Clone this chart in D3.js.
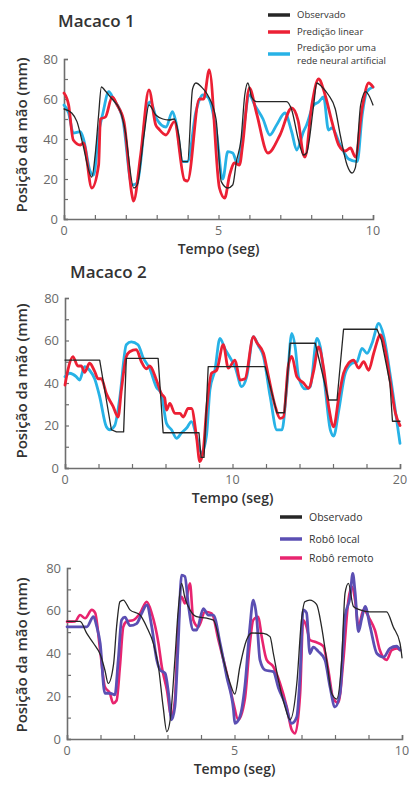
<!DOCTYPE html>
<html>
<head>
<meta charset="utf-8">
<script src="https://cdn.jsdelivr.net/npm/d3@7"></script>
<style>
  html, body { margin: 0; padding: 0; background: #fff; }
  svg { display: block; }
  text { font-family: "Open Sans", "Noto Sans", sans-serif; }
</style>
</head>
<body>
<svg id="chart" width="419" height="787"></svg>
<script>
// ---------- Macaco 1 (0–10 s) ----------
const m1ObsT = [0,0.25,0.42,0.6,0.9,1.02,1.12,1.21,1.34,1.5,1.83,1.97,2.26,2.37,2.59,2.75,2.97,3.2,3.4,3.57,3.73,3.84,4.0,4.16,4.27,4.45,4.65,4.92,5.09,5.3,5.46,5.58,5.73,5.85,5.95,6.07,6.23,7.2,7.37,7.58,7.75,7.85,8.08,8.18,8.35,8.56,8.78,8.94,9.16,9.32,9.43,9.6,9.76,9.86,10.0];
const m1ObsV = [55,53,48.7,38,21,33.7,52,66,64,61,53.7,45,15.5,17,42,57,52,50,49.5,50,40.5,28.7,28.7,65,68,66,62,50,18.7,15.5,17,28.7,40,62,68,61,58.7,58.7,54.5,40,32,33,57,68,66,62,55,42,27,23,25.7,57,63.7,62,57];

const m1LinT = [0,0.15,0.3,0.53,0.63,0.9,1.12,1.18,1.34,1.56,1.72,1.94,2.2,2.25,2.48,2.75,2.97,3.07,3.3,3.57,3.9,4.0,4.38,4.52,4.7,5.03,5.2,5.36,5.52,5.68,5.78,6.0,6.23,6.6,6.99,7.37,7.58,7.75,7.8,8.02,8.24,8.45,8.67,8.89,9.1,9.27,9.43,9.65,9.86,10.0];
const m1LinV = [63,57,39.5,37,38,15.5,27,50,51,61,57,48.7,12,9,32,64.5,47,45,42,48.7,19.5,19,60,60,74.5,15.5,10.5,22,28,27,37,65.5,53,33,42,55.5,49,32,31,57,70,62,48.7,37,34,35.5,31,55.5,68,66];

const m1AnnT = [0,0.15,0.3,0.53,0.63,0.85,0.96,1.12,1.26,1.45,1.6,1.9,2.2,2.37,2.7,2.8,3.0,3.3,3.51,3.62,3.84,4.0,4.27,4.49,4.65,4.92,5.14,5.3,5.46,5.62,5.78,6.0,6.17,6.44,6.66,6.88,7.15,7.37,7.53,7.75,7.85,8.08,8.24,8.4,8.56,8.67,8.94,9.21,9.49,9.65,9.8,10.0];
const m1AnnV = [57,53,43,43.7,40,23.7,22,43,53,63.7,60,50,17,18,57,58.5,50,46,53.7,48.7,28.7,28.7,53.7,62,61,45,20,33.7,33,27.5,41.5,62,57,50,42,47,53,43.5,34.5,43.7,47,57,58.5,61,44.5,45.5,37,30,28.7,52,63.7,66];

// ---------- Macaco 2 (0–20 s) ----------
const m2ObsT = [0,2.07,2.3,2.77,3.07,3.5,3.66,5.56,5.86,8.0,8.12,8.3,8.55,11.95,12.65,13.1,13.44,14.94,15.74,16.24,16.63,18.63,18.9,19.4,19.55,20.0];
const m2ObsV = [50.8,50.8,40,18,17,17,51.6,51.6,16.6,16.6,5,5,47.7,47.7,26,26,58.7,58.7,32,32,65.3,65.3,60,40,22,22];

const m2LinT = [0,0.17,0.47,0.77,0.97,1.17,1.47,1.77,1.97,2.17,2.47,2.87,3.17,3.37,3.66,3.86,4.26,4.56,4.86,5.06,5.46,5.75,5.95,6.06,6.26,6.56,6.86,7.06,7.35,7.55,7.85,8.05,8.25,8.45,8.75,9.05,9.45,9.75,10.15,10.45,10.75,11.25,11.45,11.85,12.15,12.55,12.84,13.04,13.34,13.54,13.84,14.24,14.54,14.84,15.14,15.44,15.74,16.04,16.34,16.63,16.93,17.23,17.53,17.83,18.13,18.43,18.83,19.13,19.43,19.73,20.0];
const m2LinV = [39,46,52.4,48,48,45,49.3,45.5,42,42,35,29,24,37,52.4,54.7,55.7,50,46.7,48,41.4,35,33,27.3,30.4,25.7,25.7,24,28,28,14.7,3,8,27.3,44.6,46,58,47,50.8,41.4,42,61.8,59,54,43,29,23.4,24,48.5,52.5,43,40,37.5,45.5,57,47,29,19.4,33,44.6,49.3,50.8,47,50,46,54,62.6,55,40,25.7,20];

const m2AnnT = [0,0.27,0.67,0.87,1.17,1.47,1.77,2.07,2.47,2.67,2.97,3.27,3.66,3.96,4.36,4.66,5.06,5.46,5.75,6.06,6.36,6.66,6.96,7.26,7.55,7.85,8.15,8.45,8.65,8.95,9.25,9.55,9.85,10.15,10.55,10.85,11.25,11.55,11.85,12.25,12.65,12.95,13.24,13.54,13.74,13.94,14.34,14.64,15.04,15.24,15.54,15.84,16.04,16.34,16.73,17.13,17.43,17.73,18.03,18.33,18.73,19.03,19.43,19.83,20.0];
const m2AnnV = [43,44.6,43,41.4,47.7,46,42,33.6,19.4,18,20,33,58,59.4,58,52,46.7,38,35,21,18,14,16.6,18.8,21.8,15,7,15.5,36.7,46,61,56,52,47.7,38.3,43,61.8,57.5,52.4,33.6,17.9,17.9,38,63.4,57,43,37.2,38.3,61,57,37,17.9,15,27,44.6,49.3,50,56.3,54,58.7,68,62,43,21,11.6];

// ---------- Robôs (0–10 s) ----------
const rObsT = [0,0.39,0.59,0.79,0.99,1.13,1.23,1.39,1.48,1.58,1.68,1.88,2.18,2.38,2.58,2.73,2.87,2.98,3.08,3.22,3.32,3.42,3.52,3.67,3.87,4.17,4.37,4.67,4.87,5.01,5.16,5.36,5.51,5.86,6.06,6.16,6.31,6.51,6.66,6.86,7.0,7.1,7.25,7.45,7.6,7.75,7.9,8.05,8.2,8.3,8.4,8.55,8.75,9.04,9.54,9.74,9.94,10.0];
const rObsV = [55,55,49.4,44.8,39.6,32.3,26,35,52.5,64.2,65,60.4,58,52.4,44.6,33.8,15,3.4,9,37,60.4,72.8,66,60.4,57.2,56.5,55.6,37,26,21,33.8,46.3,49.6,49.4,47.9,40,27.6,15,9,26,55.7,64.2,65,63,52.5,37,21.4,18.7,37,68.2,72.8,62,60.4,59.5,59.5,52.4,44.8,38];

const rLocalT = [0,0.59,0.79,0.89,0.99,1.13,1.28,1.43,1.53,1.63,1.73,1.88,2.08,2.23,2.38,2.53,2.68,2.78,2.93,3.03,3.12,3.22,3.32,3.42,3.52,3.62,3.77,3.87,4.07,4.22,4.37,4.57,4.77,4.97,5.01,5.16,5.31,5.46,5.56,5.66,5.76,5.91,6.16,6.31,6.51,6.71,6.86,6.96,7.05,7.15,7.25,7.35,7.5,7.7,7.85,8.0,8.15,8.3,8.45,8.53,8.6,8.7,8.8,8.9,9.05,9.25,9.45,9.64,9.84,9.94];
const rLocalV = [52.5,52.5,57.2,52.5,44.8,21.4,21.4,20.6,37,55.7,57,53,54,58.8,62.7,52.5,37,32.3,30.7,21.4,9,15,44.8,76.7,76,63,51,51,61,58,58,44.8,29,13.6,7.3,10.4,24.6,52.5,65,57,37,32.3,31.5,24,16.7,7.3,10.4,30.7,60.4,59,40,43,41,37,24.5,15,21.4,57.2,66.5,77.5,68.6,50.2,56.5,62,52.5,40,38.3,42.4,43.4,41.6];

const rRemoteT = [0,0.24,0.39,0.54,0.74,0.84,0.99,1.13,1.28,1.38,1.48,1.58,1.68,1.78,1.98,2.18,2.38,2.53,2.73,2.83,2.98,3.12,3.22,3.32,3.42,3.52,3.67,3.77,3.92,4.12,4.32,4.52,4.77,4.97,5.11,5.31,5.46,5.56,5.71,5.81,5.96,6.16,6.36,6.56,6.71,6.81,6.96,7.05,7.15,7.25,7.4,7.65,7.8,7.95,8.1,8.25,8.4,8.5,8.6,8.7,8.85,9.05,9.19,9.34,9.54,9.69,9.84,9.94];
const rRemoteV = [54.9,55,58,56.5,60.4,59,41.4,24.5,21.4,16.7,18,33.8,52.5,55,55.6,58.8,64.2,58.8,44.8,33.8,23,10.4,18,52.5,66.5,63.4,72.8,55.7,52.5,59.5,58.8,46.3,30.7,16.7,9,18.7,44.8,55.7,57.2,48,37,33.8,26,15,4.2,2.6,21.4,55.7,52.5,46.3,45.5,43.4,32.3,18.7,17,37,65,71.2,65,52.5,60.4,55.7,51,41.5,37,41.5,42.4,41.6];

// Axis tick values
const yTicksMinor = [0,10,20,30,40,50,60,70,80];
const yTickLabels = [0,20,40,60,80];
const xTicks10 = [0,1,2,3,4,5,6,7,8,9,10];
const xLabels10 = [0,5,10];
const xTicks20 = [0,2,4,6,8,10,12,14,16,18,20];
const xLabels20 = [0,10,20];

// Text
const yTitle = "Posição da mão (mm)";
const xTitle = "Tempo (seg)";
const legend1 = ["Observado", "Predição linear", "Predição por uma|rede neural artificial"];
const legend3 = ["Observado", "Robô local", "Robô remoto"];

// Colours
const cObs = "#262626", cLin = "#ec2034", cAnn = "#27b2e6", cLocal = "#5b4fb3", cRemote = "#e8246f";
const axisColor = "#6e6e6e", tickText = "#6a6a6a";

const svg = d3.select("#chart");

function panel(p) {
  const x = d3.scaleLinear().domain([0, p.xMax]).range([p.x0, p.x1]);
  const y = d3.scaleLinear().domain([0, 80]).range([p.y0, p.y1]);
  const g = svg.append("g");

  // y axis: ticks pointing inward, labels every 20
  const ya = g.append("g").attr("transform", `translate(${p.x0},0)`)
    .call(d3.axisRight(y).tickValues(yTicksMinor).tickSize(4).tickFormat(""));
  ya.select(".domain").attr("stroke", axisColor).attr("stroke-width", 1.6);
  ya.selectAll(".tick line").attr("stroke", axisColor).attr("stroke-width", 1.2);
  g.selectAll(".ylab").data(yTickLabels).join("text")
    .attr("x", p.x0 - 6).attr("y", d => y(d)).attr("dy", "0.36em")
    .attr("text-anchor", "end").attr("font-size", 13).attr("fill", tickText)
    .text(d => d);

  // x axis: ticks pointing up
  const xa = g.append("g").attr("transform", `translate(0,${p.y0})`)
    .call(d3.axisTop(x).tickValues(p.xTicks).tickSize(4).tickFormat(""));
  xa.select(".domain").attr("stroke", axisColor).attr("stroke-width", 1.6);
  xa.selectAll(".tick line").attr("stroke", axisColor).attr("stroke-width", 1.2);
  g.selectAll(".xlab").data(p.xLabels).join("text")
    .attr("x", d => x(d)).attr("y", p.y0 + 15.5)
    .attr("text-anchor", "middle").attr("font-size", 12.5).attr("fill", tickText)
    .text(d => d);

  // axis titles
  g.append("text").attr("x", (p.x0 + p.x1) / 2).attr("y", p.xTitleY)
    .attr("text-anchor", "middle").attr("font-size", 14).attr("font-weight", 600)
    .attr("fill", "#333").text(xTitle);
  g.append("text").attr("transform", `translate(${p.yTitleX},${p.yTitleY}) rotate(-90)`)
    .attr("text-anchor", "middle").attr("font-size", 15).attr("font-weight", 600)
    .attr("fill", "#333").attr("dy", "0.35em").text(yTitle);

  if (p.title) {
    g.append("text").attr("x", p.titleX).attr("y", p.titleY)
      .attr("font-size", 17).attr("font-weight", 600).attr("fill", "#333").text(p.title);
  }

  // series
  p.series.forEach(s => {
    const pts = s.t.map((t, i) => [t, s.v[i]]);
    const line = d3.line().x(d => x(d[0])).y(d => y(d[1]))
      .curve(s.step ? d3.curveLinear : d3.curveMonotoneX);
    g.append("path").datum(pts).attr("d", line)
      .attr("fill", "none").attr("stroke", s.color).attr("stroke-width", s.w)
      .attr("stroke-linejoin", "round").attr("stroke-linecap", "round");
  });
}

panel({
  x0: 64, x1: 373, y0: 219, y1: 59, xMax: 10,
  xTicks: xTicks10, xLabels: xLabels10,
  xTitleY: 253.5, yTitleX: 22, yTitleY: 135,
  title: "Macaco 1", titleX: 58, titleY: 27,
  series: [
    { t: m1AnnT, v: m1AnnV, color: cAnn, w: 2.8 },
    { t: m1LinT, v: m1LinV, color: cLin, w: 2.8 },
    { t: m1ObsT, v: m1ObsV, color: cObs, w: 1.3 }
  ]
});

panel({
  x0: 65, x1: 400, y0: 468, y1: 298, xMax: 20,
  xTicks: xTicks20, xLabels: xLabels20,
  xTitleY: 502.5, yTitleX: 22, yTitleY: 381,
  title: "Macaco 2", titleX: 70, titleY: 278,
  series: [
    { t: m2AnnT, v: m2AnnV, color: cAnn, w: 2.8 },
    { t: m2LinT, v: m2LinV, color: cLin, w: 2.8 },
    { t: m2ObsT, v: m2ObsV, color: cObs, w: 1.3, step: true }
  ]
});

panel({
  x0: 67, x1: 402, y0: 739, y1: 568, xMax: 10,
  xTicks: xTicks10, xLabels: xLabels10,
  xTitleY: 774, yTitleX: 22, yTitleY: 655,
  series: [
    { t: rRemoteT, v: rRemoteV, color: cRemote, w: 2.6 },
    { t: rLocalT, v: rLocalV, color: cLocal, w: 2.8 },
    { t: rObsT, v: rObsV, color: cObs, w: 1.3 }
  ]
});

// legends
function legend(items, colors, lx, ys, fs, lineGap) {
  const g = svg.append("g");
  items.forEach((label, i) => {
    g.append("line").attr("x1", lx).attr("x2", lx + 22).attr("y1", ys[i]).attr("y2", ys[i])
      .attr("stroke", colors[i]).attr("stroke-width", 3.5);
    const parts = label.split("|");
    const off = -(parts.length - 1) * lineGap / 2;
    parts.forEach((part, j) => {
      g.append("text").attr("x", lx + 29).attr("y", ys[i] + off + j * lineGap)
        .attr("dy", "0.35em").attr("font-size", fs).attr("fill", "#333").text(part);
    });
  });
}
legend(legend1, [cObs, cLin, cAnn], 268, [15, 32, 54], 9.5, 13.5);
legend(legend3, [cObs, cLocal, cRemote], 280, [517, 539, 558], 10.5, 13);
</script>
</body>
</html>
